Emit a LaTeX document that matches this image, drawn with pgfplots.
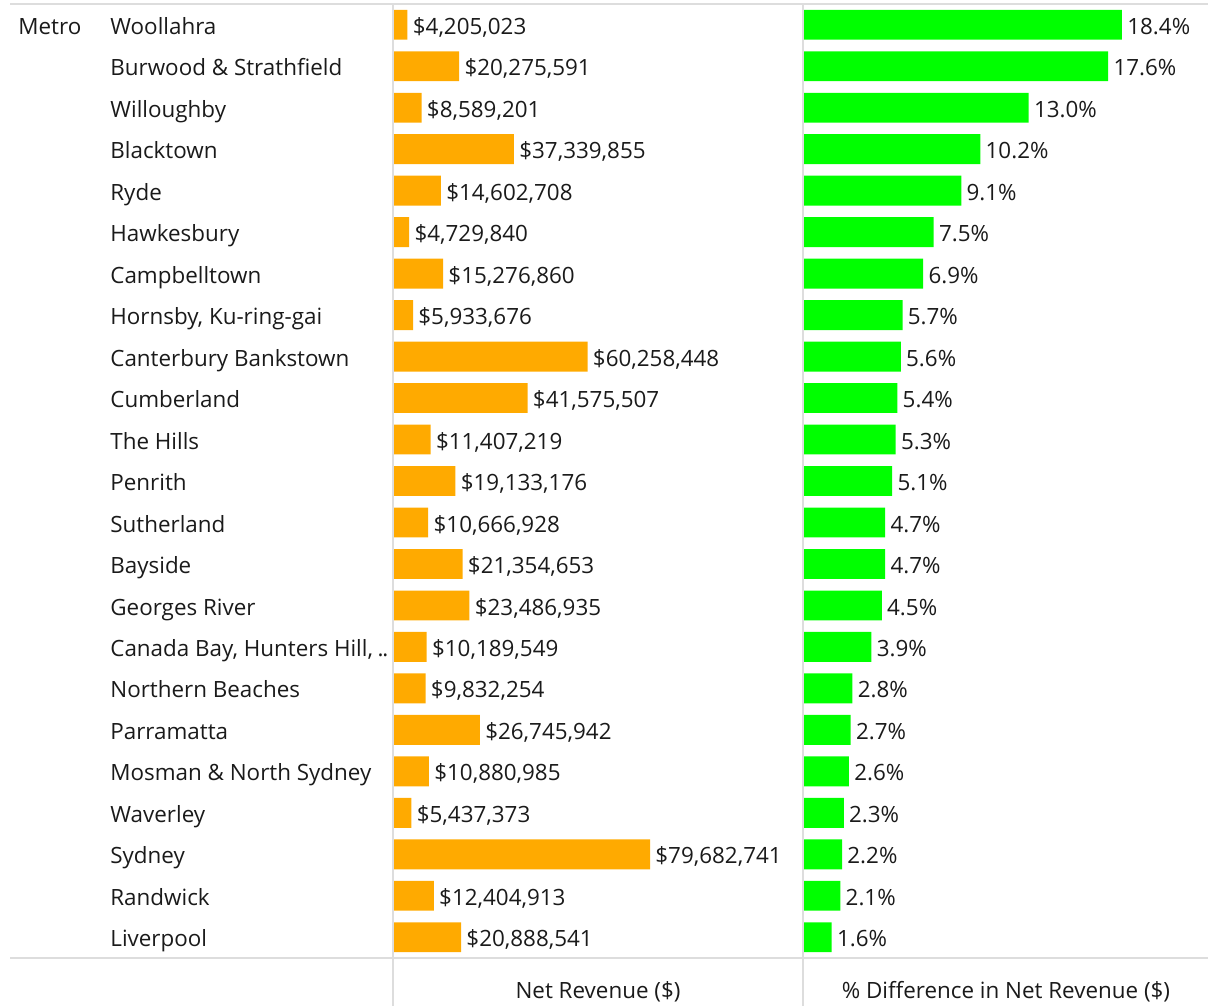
\documentclass[border=0pt]{standalone}
\usepackage{fontspec}
\setmainfont{Open Sans}
\usepackage{pgfplots}
\usepackage{pgfplotstable}
\pgfplotsset{compat=1.18}
\definecolor{barorange}{HTML}{FFAA00}
\definecolor{bargreen}{HTML}{00FF00}
\definecolor{rulegray}{HTML}{DDDDDD}
\definecolor{txt}{HTML}{1A1A1A}

% net revenue in $M, the printed label, % difference
\pgfplotstableread{
i rev lab pct
0 4.205023 4,205,023 18.4
1 20.275591 20,275,591 17.6
2 8.589201 8,589,201 13.0
3 37.339855 37,339,855 10.2
4 14.602708 14,602,708 9.1
5 4.729840 4,729,840 7.5
6 15.276860 15,276,860 6.9
7 5.933676 5,933,676 5.7
8 60.258448 60,258,448 5.6
9 41.575507 41,575,507 5.4
10 11.407219 11,407,219 5.3
11 19.133176 19,133,176 5.1
12 10.666928 10,666,928 4.7
13 21.354653 21,354,653 4.7
14 23.486935 23,486,935 4.5
15 10.189549 10,189,549 3.9
16 9.832254 9,832,254 2.8
17 26.745942 26,745,942 2.7
18 10.880985 10,880,985 2.6
19 5.437373 5,437,373 2.3
20 79.682741 79,682,741 2.2
21 12.404913 12,404,913 2.1
22 20.888541 20,888,541 1.6
}\metro

\newcommand{\lblfont}{\fontsize{11.2}{13}\selectfont}
\tikzset{lbl/.style={font=\lblfont, text=txt, inner sep=0pt, text height=1.34ex, text depth=0pt}}

\pgfplotsset{
  panel/.style={
    scale only axis, height=477pt, anchor=south west,
    y dir=reverse, ymin=-0.5, ymax=22.5,
    axis line style={draw=none}, xtick=\empty,
    ytick={0,...,22}, major tick length=0pt,
    xbar, bar width=0.72, clip=false,
    nodes near coords style={lbl, anchor=west, xshift=2.5pt, yshift=-1.2pt},
  },
}

\begin{document}
\begin{tikzpicture}
\begin{axis}[panel, at={(196.5pt,0pt)}, width=205pt,
  xmin=-0.3, xmax=127.3,
  yticklabels={Woollahra, Burwood \& Strathfield, Willoughby, Blacktown, Ryde,
    Hawkesbury, Campbelltown, {Hornsby, Ku-ring-gai}, Canterbury Bankstown,
    Cumberland, The Hills, Penrith, Sutherland, Bayside, Georges River,
    {Canada Bay, Hunters Hill,\kern-0.6pt\ .\kern-0.6pt.}, Northern Beaches, Parramatta,
    Mosman \& North Sydney, Waverley, Sydney, Randwick, Liverpool},
  yticklabel style={lbl, anchor=west, xshift=-141.5pt, yshift=-1.2pt},
  point meta=explicit symbolic,
  nodes near coords={\$\pgfplotspointmeta},
]
\addplot[fill=barorange, draw=none] table[x=rev, y=i, meta=lab] {\metro};
\node[lbl, anchor=west, yshift=-1.2pt] at ([xshift=-187.5pt]axis cs:-0.3,0) {Metro};
\end{axis}

\begin{axis}[panel, at={(401.5pt,0pt)}, width=202.5pt,
  xmin=-0.058, xmax=23.38,
  yticklabels={},
  point meta=x,
  nodes near coords={\pgfmathprintnumber[fixed, precision=1, zerofill, assume math mode=true]{\pgfplotspointmeta}\%},
]
\addplot[fill=bargreen, draw=none] table[x=pct, y=i] {\metro};
\end{axis}

\draw[rulegray, line width=0.8pt] (5pt,477pt) -- (604pt,477pt);
\draw[rulegray, line width=0.8pt] (5pt,0pt) -- (604pt,0pt);
\draw[rulegray, line width=0.8pt] (196.5pt,477pt) -- (196.5pt,-24pt);
\draw[rulegray, line width=0.8pt] (401.5pt,477pt) -- (401.5pt,-24pt);

\node[lbl] at (299pt,-16.5pt) {Net Revenue (\$)};
\node[lbl] at (503pt,-16.5pt) {\% Difference in Net Revenue (\$)};

\pgfresetboundingbox
\path (0pt,-24pt) rectangle (604pt,479pt);
\end{tikzpicture}
\end{document}
